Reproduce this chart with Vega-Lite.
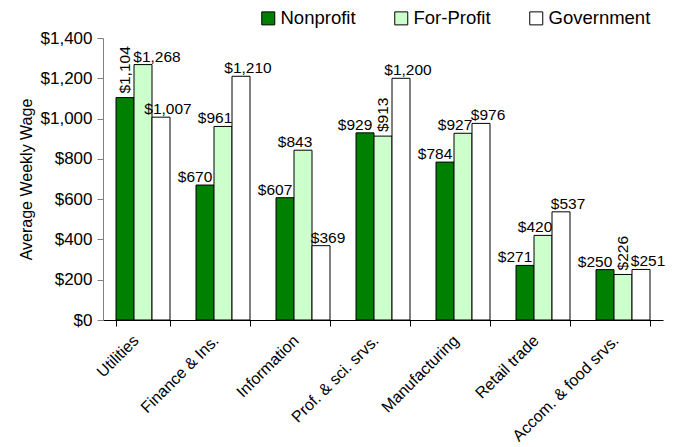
{
  "$schema": "https://vega.github.io/schema/vega-lite/v6.json",
  "width": 560,
  "height": 282,
  "autosize": {"type": "none"},
  "padding": {"left": 103, "top": 38, "right": 10, "bottom": 127},
  "background": "white",
  "config": {
    "font": "Liberation Sans",
    "view": {"stroke": null},
    "axis": {"labelFont": "Liberation Sans", "titleFont": "Liberation Sans", "labelColor": "black", "titleColor": "black", "grid": false}
  },
  "data": {
    "values": [
      {"category": "Utilities", "series": "Nonprofit", "wage": 1104},
      {"category": "Utilities", "series": "For-Profit", "wage": 1268},
      {"category": "Utilities", "series": "Government", "wage": 1007},
      {"category": "Finance & Ins.", "series": "Nonprofit", "wage": 670},
      {"category": "Finance & Ins.", "series": "For-Profit", "wage": 961},
      {"category": "Finance & Ins.", "series": "Government", "wage": 1210},
      {"category": "Information", "series": "Nonprofit", "wage": 607},
      {"category": "Information", "series": "For-Profit", "wage": 843},
      {"category": "Information", "series": "Government", "wage": 369},
      {"category": "Prof. & sci. srvs.", "series": "Nonprofit", "wage": 929},
      {"category": "Prof. & sci. srvs.", "series": "For-Profit", "wage": 913},
      {"category": "Prof. & sci. srvs.", "series": "Government", "wage": 1200},
      {"category": "Manufacturing", "series": "Nonprofit", "wage": 784},
      {"category": "Manufacturing", "series": "For-Profit", "wage": 927},
      {"category": "Manufacturing", "series": "Government", "wage": 976},
      {"category": "Retail trade", "series": "Nonprofit", "wage": 271},
      {"category": "Retail trade", "series": "For-Profit", "wage": 420},
      {"category": "Retail trade", "series": "Government", "wage": 537},
      {"category": "Accom. & food srvs.", "series": "Nonprofit", "wage": 250},
      {"category": "Accom. & food srvs.", "series": "For-Profit", "wage": 226},
      {"category": "Accom. & food srvs.", "series": "Government", "wage": 251}
    ]
  },
  "encoding": {
    "x": {
      "field": "category", "type": "nominal", "sort": null,
      "scale": {"paddingInner": 0.325, "paddingOuter": 0.1625},
      "axis": {"title": null, "labelAngle": -45, "labelAlign": "right", "labelBaseline": "top", "labelFontSize": 16, "labelPadding": 6, "labelOffset": -13, "domainColor": "black", "tickColor": "black", "tickSize": 6, "tickBand": "extent"}
    },
    "xOffset": {"field": "series", "type": "nominal", "sort": ["Nonprofit", "For-Profit", "Government"], "scale": {"paddingInner": 0}},
    "y": {
      "field": "wage", "type": "quantitative",
      "scale": {"domain": [0, 1400]},
      "axis": {"title": "Average Weekly Wage", "format": "$,.0f", "values": [0, 200, 400, 600, 800, 1000, 1200, 1400], "labelFontSize": 17, "titleFontSize": 16, "titleFontWeight": "normal", "domainColor": "#808080", "tickColor": "#808080", "tickSize": 6, "labelPadding": 5, "titlePadding": 6}
    }
  },
  "layer": [
    {
      "mark": {"type": "bar", "stroke": "black", "strokeWidth": 1},
      "encoding": {
        "fill": {
          "field": "series", "type": "nominal",
          "sort": ["Nonprofit", "For-Profit", "Government"],
          "scale": {"domain": ["Nonprofit", "For-Profit", "Government"], "range": ["#008000", "#CCFFCC", "#FFFFFF"]},
          "legend": {"title": null, "orient": "none", "direction": "horizontal", "legendX": 156, "legendY": -29, "symbolType": "square", "symbolSize": 169, "symbolStrokeColor": "black", "symbolStrokeWidth": 1, "labelFontSize": 18.5, "labelColor": "black", "labelOffset": 3, "columnPadding": 36}
        }
      }
    },
    {
      "transform": [{"filter": "datum.series == 'Nonprofit' && datum.category != 'Utilities'"}],
      "mark": {"type": "text", "baseline": "alphabetic", "dy": -3, "dx": -10, "fontSize": 15.5, "color": "black"},
      "encoding": {"text": {"field": "wage", "type": "quantitative", "format": "$,.0f"}}
    },
    {
      "transform": [{"filter": "datum.series == 'For-Profit' && datum.category != 'Utilities' && datum.category != 'Prof. & sci. srvs.' && datum.category != 'Accom. & food srvs.'"}],
      "mark": {"type": "text", "baseline": "alphabetic", "dy": -3, "dx": -8, "fontSize": 15.5, "color": "black"},
      "encoding": {"text": {"field": "wage", "type": "quantitative", "format": "$,.0f"}}
    },
    {
      "transform": [{"filter": "datum.series == 'For-Profit' && datum.category == 'Utilities'"}],
      "mark": {"type": "text", "baseline": "alphabetic", "dy": -3, "dx": 14, "fontSize": 15.5, "color": "black"},
      "encoding": {"text": {"field": "wage", "type": "quantitative", "format": "$,.0f"}}
    },
    {
      "transform": [{"filter": "datum.series == 'Government'"}],
      "mark": {"type": "text", "baseline": "alphabetic", "dy": -3, "dx": 7, "fontSize": 15.5, "color": "black"},
      "encoding": {"text": {"field": "wage", "type": "quantitative", "format": "$,.0f"}}
    },
    {
      "transform": [{"filter": "(datum.category == 'Utilities' && datum.series == 'Nonprofit') || (datum.category == 'Prof. & sci. srvs.' && datum.series == 'For-Profit') || (datum.category == 'Accom. & food srvs.' && datum.series == 'For-Profit')"}],
      "mark": {"type": "text", "angle": 270, "align": "left", "baseline": "middle", "dx": 4, "fontSize": 15.5, "color": "black"},
      "encoding": {"text": {"field": "wage", "type": "quantitative", "format": "$,.0f"}}
    }
  ]
}
